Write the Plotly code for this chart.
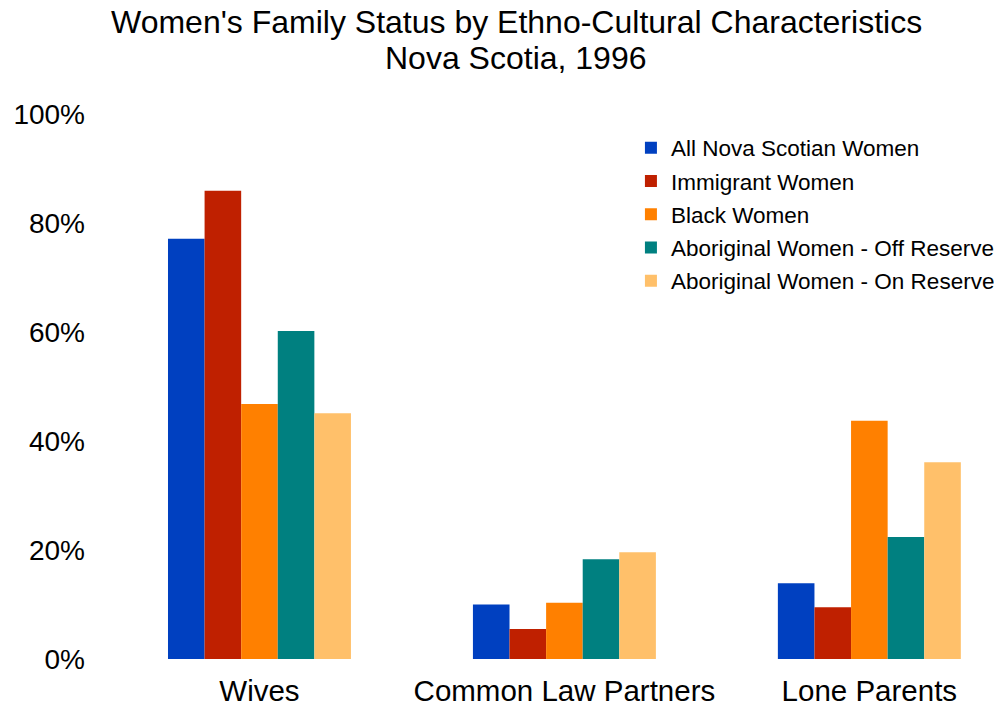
import plotly.graph_objects as go

categories = ["Wives", "Common Law Partners", "Lone Parents"]

all_ns_women = [77.1, 10.0, 13.9]
immigrant_women = [85.9, 5.5, 9.5]
black_women = [46.8, 10.3, 43.7]
aboriginal_off = [60.2, 18.3, 22.4]
aboriginal_on = [45.1, 19.6, 36.1]

series = [
    ("All Nova Scotian Women", all_ns_women, "#0040C0"),
    ("Immigrant Women", immigrant_women, "#BF2000"),
    ("Black Women", black_women, "#FF8000"),
    ("Aboriginal Women - Off Reserve", aboriginal_off, "#008080"),
    ("Aboriginal Women - On Reserve", aboriginal_on, "#FFC06A"),
]

title_lines = ["Women's Family Status by Ethno-Cultural Characteristics", "Nova Scotia, 1996"]

font_family = "Arial, Liberation Sans, sans-serif"

fig = go.Figure()
for i, (name, vals, color) in enumerate(series):
    fig.add_trace(go.Bar(
        x=categories, y=vals, name=name,
        marker=dict(color=color, line=dict(width=0)),
        legendgroup=str(i),
    ))

# page body has an 8px margin, so the figure is sized to what is visible
fig.update_layout(
    width=994, height=694,
    paper_bgcolor="white", plot_bgcolor="white",
    font=dict(family=font_family, color="black"),
    barmode="group", bargap=0.4, bargroupgap=0,
    margin=dict(l=99, r=0, t=106, b=43),
    legend=dict(
        x=0.5854, y=0.977, xanchor="left", yanchor="top",
        font=dict(size=22.5, family=font_family),
        tracegroupgap=1, bgcolor="rgba(0,0,0,0)",
        itemwidth=30,
    ),
    showlegend=True,
)

for text, ypos in zip(title_lines, [1.169, 1.103]):
    fig.add_annotation(
        text=text, xref="paper", yref="paper", x=0.457, y=ypos,
        xanchor="center", yanchor="middle", showarrow=False,
        font=dict(size=32, family=font_family),
    )

fig.update_xaxes(
    range=[-0.5, 2.435], showline=False, showgrid=False, ticks="",
    tickfont=dict(size=29.5), ticklabelstandoff=11, automargin=False,
)
fig.update_yaxes(
    range=[0, 100], tickvals=[0, 20, 40, 60, 80, 100],
    ticktext=["0%", "20%", "40%", "60%", "80%", "100%"],
    showline=False, showgrid=False, zeroline=False, ticks="",
    tickfont=dict(size=28), ticklabelstandoff=21, automargin=False,
)

fig.write_html("out.html")
